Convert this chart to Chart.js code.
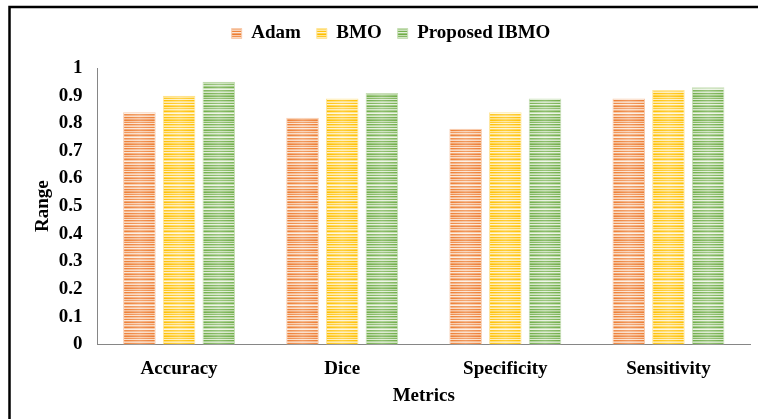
<!DOCTYPE html>
<html>
<head>
<meta charset="utf-8">
<script src="https://cdn.jsdelivr.net/npm/chart.js@4/dist/chart.umd.min.js"></script>
<style>
  html, body { margin: 0; padding: 0; background: #ffffff; }
  #wrap { position: relative; width: 758px; height: 419px; }
</style>
</head>
<body>
<div id="wrap"><canvas id="chart"></canvas></div>
<script>
// Metrics on the x axis
const metrics = ['Accuracy', 'Dice', 'Specificity', 'Sensitivity'];

// Scores per optimiser
const adamScores = [0.84, 0.82, 0.78, 0.89];
const bmoScores = [0.90, 0.89, 0.84, 0.92];
const ibmoScores = [0.95, 0.91, 0.89, 0.93];

const seriesNames = ['Adam', 'BMO', 'Proposed IBMO'];

// Y axis tick labels, 0 to 1 in steps of 0.1
const yTickLabels = ['0', '0.1', '0.2', '0.3', '0.4', '0.5', '0.6', '0.7', '0.8', '0.9', '1'];

const SERIF = "'Liberation Serif', 'Times New Roman', serif";

// Horizontal stripe fill: rows alternate between the base colour and lighter tints
function mix(hex, t) {
  const n = parseInt(hex.slice(1), 16);
  const r = (n >> 16) & 255, g = (n >> 8) & 255, b = n & 255;
  const m = c => Math.round(c + (255 - c) * t);
  return `rgb(${m(r)},${m(g)},${m(b)})`;
}
const stripeTints = [0, 0.55, 0.1, 0.75, 0, 0.45, 0.65, 0.05, 0.8, 0.3, 0, 0.6,
                     0.15, 0.7, 0.35, 0, 0.55, 0.85, 0.1, 0.4, 0.7, 0, 0.5, 0.25];
function stripes(hex) {
  const tile = document.createElement('canvas');
  tile.width = 4;
  tile.height = stripeTints.length;
  const c = tile.getContext('2d');
  stripeTints.forEach((t, i) => {
    c.fillStyle = mix(hex, t);
    c.fillRect(0, i, 4, 1);
  });
  return c.createPattern(tile, 'repeat');
}

const baseColours = ['#ED7D31', '#FFC000', '#70AD47'];

// Thick black frame running off the right and bottom edges
const framePlugin = {
  id: 'frame',
  beforeDraw(chart) {
    const ctx = chart.ctx;
    ctx.save();
    ctx.strokeStyle = '#000000';
    ctx.lineWidth = 2.5;
    ctx.beginPath();
    ctx.moveTo(9.5, chart.height + 5);
    ctx.lineTo(9.5, 7);
    ctx.lineTo(chart.width + 5, 7);
    ctx.stroke();
    ctx.restore();
  }
};

// Soft light sheen across the middle of every bar
const barSheen = {
  id: 'barSheen',
  afterDatasetsDraw(chart) {
    const ctx = chart.ctx;
    ctx.save();
    chart.data.datasets.forEach((ds, i) => {
      chart.getDatasetMeta(i).data.forEach(bar => {
        const { x, y, base, width } = bar.getProps(['x', 'y', 'base', 'width'], true);
        const left = x - width / 2;
        const g = ctx.createLinearGradient(left, 0, left + width, 0);
        g.addColorStop(0, 'rgba(255,255,255,0)');
        g.addColorStop(0.5, 'rgba(255,255,255,0.22)');
        g.addColorStop(1, 'rgba(255,255,255,0)');
        ctx.fillStyle = g;
        ctx.fillRect(left + 1, y + 1, width - 2, base - y - 1);
      });
    });
    ctx.restore();
  }
};

// Extra space between the legend and the plot
const legendGap = {
  id: 'legendGap',
  afterInit(chart) {
    const legend = chart.legend;
    if (!legend) return;
    const fit = legend.fit;
    legend.fit = function () {
      fit.call(this);
      this.height += 15;
    };
  }
};

const values = [adamScores, bmoScores, ibmoScores];

new Chart(document.getElementById('chart'), {
  type: 'bar',
  data: {
    labels: metrics,
    datasets: seriesNames.map((name, i) => ({
      label: name,
      data: values[i],
      backgroundColor: stripes(baseColours[i]),
      borderColor: mix(baseColours[i], 0.6),
      borderWidth: 1,
      categoryPercentage: 0.73,
      barPercentage: 0.82
    }))
  },
  options: {
    responsive: true,
    maintainAspectRatio: false,
    animation: false,
    layout: { padding: { top: 8, left: 32, right: 8, bottom: 12 } },
    plugins: {
      legend: {
        position: 'top',
        labels: {
          boxWidth: 10,
          boxHeight: 10,
          padding: 16,
          color: '#000000',
          font: { family: SERIF, size: 19, weight: 'bold' }
        }
      },
      tooltip: { enabled: false }
    },
    scales: {
      x: {
        grid: { display: false, drawTicks: false },
        border: { display: true, color: '#868686', width: 1 },
        ticks: {
          padding: 13,
          color: '#000000',
          font: { family: SERIF, size: 19, weight: 'bold' }
        },
        title: {
          display: true,
          text: 'Metrics',
          color: '#000000',
          padding: { top: -9, bottom: 0 },
          font: { family: SERIF, size: 19, weight: 'bold' }
        }
      },
      y: {
        min: 0,
        max: 1,
        grid: { display: false, drawTicks: false },
        border: { display: true, color: '#868686', width: 1 },
        ticks: {
          stepSize: 0.1,
          padding: 15,
          color: '#000000',
          font: { family: SERIF, size: 19, weight: 'bold' },
          callback: (v, i) => yTickLabels[i]
        },
        title: {
          display: true,
          text: 'Range',
          color: '#000000',
          padding: { top: 0, bottom: -11 },
          font: { family: SERIF, size: 19, weight: 'bold' }
        }
      }
    }
  },
  plugins: [framePlugin, barSheen, legendGap]
});
</script>
</body>
</html>
